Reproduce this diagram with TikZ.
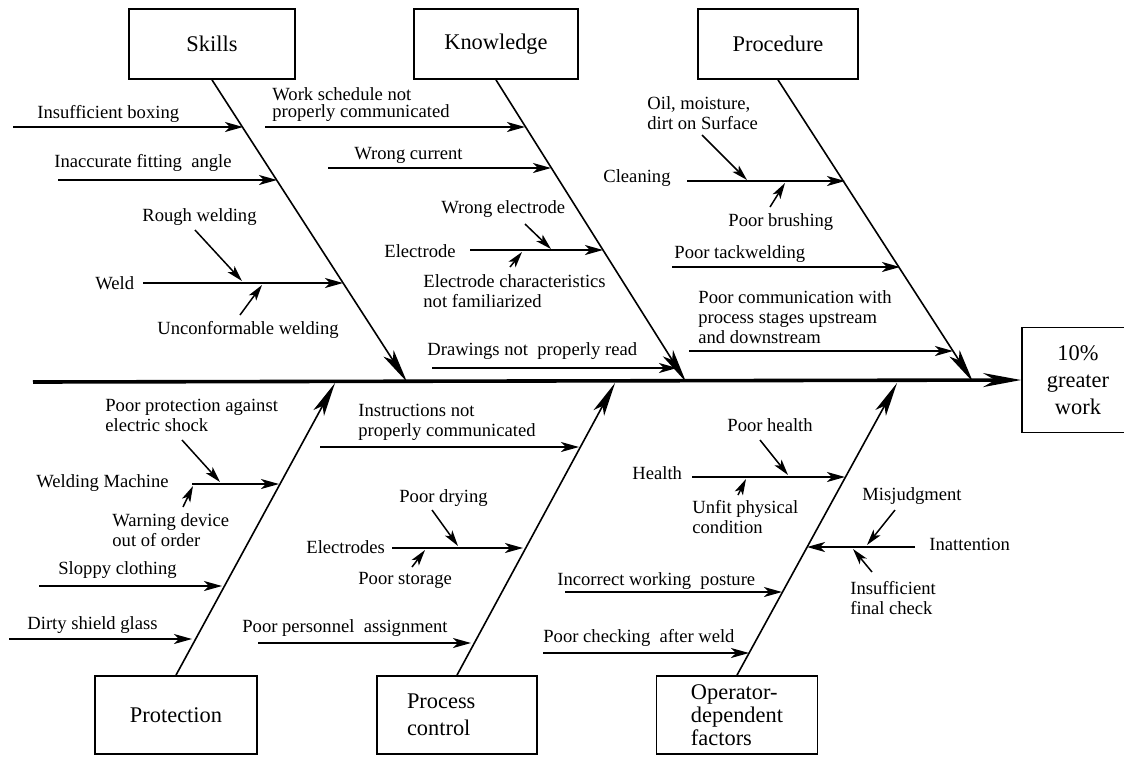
\documentclass[tikz,border=0pt]{standalone}
\usepackage{fontspec}
\setmainfont{Liberation Serif}
\usetikzlibrary{arrows.meta}
\tikzset{
    every node/.append style={align=left},
    cat/.style={rectangle,draw=black,line width=0.9pt,minimum height=35pt,inner sep=0pt,
        font=\fontsize{11.2}{13.5}\selectfont},
    lbl/.style={inner sep=0pt,anchor=west,font=\fontsize{9.3}{10}\selectfont},
    spine/.style={line width=1.8pt,-{Stealth[length=19pt,width=7pt,inset=6pt]}},
    bone/.style={line width=0.8pt,-{Stealth[length=17pt,width=6pt,inset=4pt]}},
    arr/.style={line width=0.75pt,-{Stealth[length=9pt,width=5pt,inset=2.5pt]}},
    sub/.style={line width=0.75pt,-{Stealth[length=8pt,width=4.5pt,inset=2pt]}}
}
\begin{document}
\begin{tikzpicture}[x=0.5pt,y=-0.5pt]
    \useasboundingbox (0,0) rectangle (1124,756);
    \clip (0,0) rectangle (1124,756);
    \node[cat,minimum width=83pt]   (skills)    at (212,44) {Skills};
    \node[cat,minimum width=82pt]   (knowledge) at (496,44) {Knowledge};
    \node[cat,minimum width=80pt]   (procedure) at (778,44) {Procedure};
    \node[cat,minimum width=81pt,minimum height=39pt] (protection) at (176,715) {Protection};
    \node[cat,minimum height=39pt,text width=50pt,inner xsep=15pt] (process) at (457,715) {Process\\control};
    \node[cat,minimum width=80.5pt,minimum height=39pt,font=\fontsize{11.2}{11.5}\selectfont] (operator) at (737,715) {Operator-\\dependent\\factors};
    \node[cat,minimum width=56pt,minimum height=52.5pt,align=center] (effect) at (1078,380) {10\%\\greater\\work};

    \coordinate (tail) at (33,382);
    \coordinate (skT) at (407,382);
    \coordinate (knT) at (686,382);
    \coordinate (prT) at (973,382);
    \coordinate (ptT) at (335,383);
    \coordinate (pcT) at (615,383);
    \coordinate (opT) at (897,383);

    \draw[spine] (tail) -- (effect.west);
    \draw[bone] (skills.south) -- (skT);
    \draw[bone] (knowledge.south) -- (knT);
    \draw[bone] (procedure.south) -- (prT);
    \draw[bone] (protection.north) -- (ptT);
    \draw[bone] (process.north) -- (pcT);
    \draw[bone] (operator.north) -- (opT);

    % Skills
    \node[lbl] (insuf)  at (37,114)  {Insufficient boxing};
    \node[lbl] (inacc)  at (54,163)  {Inaccurate fitting \ angle};
    \node[lbl] (weld)   at (95,283)  {Weld};
    \node[lbl] (rough)  at (142,217) {Rough welding};
    \node[lbl] (unconf) at (157,330) {Unconformable welding};
    \coordinate (insufA) at (13,127);  \coordinate (insufB) at (243,127);
    \coordinate (inaccA) at (58,180);  \coordinate (inaccB) at (277,180);
    \coordinate (weldA)  at (143,283); \coordinate (weldB)  at (343,283);
    \coordinate (roughA) at (195,230); \coordinate (roughB) at (242,281);
    \coordinate (uncA)   at (240,315); \coordinate (uncB)   at (262,285);
    \draw[arr] (insufA) -- (insufB);
    \draw[arr] (inaccA) -- (inaccB);
    \draw[arr] (weldA) -- (weldB);
    \draw[sub] (roughA) -- (roughB);
    \draw[sub] (uncA) -- (uncB);

    % Knowledge
    \node[lbl,font=\fontsize{9.3}{8.5}\selectfont] (sched) at (272,105) {Work schedule not\\properly communicated};
    \node[lbl] (wrongcur) at (354,155) {Wrong current};
    \node[lbl] (electrode) at (384,251) {Electrode};
    \node[lbl] (wrongel) at (441,209) {Wrong electrode};
    \node[lbl] (elchar) at (423,291) {Electrode characteristics\\not familiarized};
    \node[lbl] (drawings) at (427,351) {Drawings not \ properly read};
    \coordinate (schedA) at (265,127); \coordinate (schedB) at (525,127);
    \coordinate (curA)   at (328,168); \coordinate (curB)   at (551,168);
    \coordinate (elA)    at (470,250); \coordinate (elB)    at (603,250);
    \coordinate (welA)   at (525,224); \coordinate (welB)   at (551,249);
    \coordinate (charA)  at (510,267); \coordinate (charB)  at (522,252);
    \coordinate (drwA)   at (432,368); \coordinate (drwB)   at (677,368);
    \draw[arr] (schedA) -- (schedB);
    \draw[arr] (curA) -- (curB);
    \draw[arr] (elA) -- (elB);
    \draw[sub] (welA) -- (welB);
    \draw[sub] (charA) -- (charB);
    \draw[arr] (drwA) -- (drwB);

    % Procedure
    \node[lbl] (oil) at (647,113) {Oil, moisture,\\dirt on Surface};
    \node[lbl] (cleaning) at (603,178) {Cleaning};
    \node[lbl] (brushing) at (728,222) {Poor brushing};
    \node[lbl] (tack) at (674,254) {Poor tackwelding};
    \node[lbl] (comm) at (698,317) {Poor communication with\\process stages upstream\\and downstream};
    \coordinate (clnA)  at (687,181); \coordinate (clnB)  at (845,181);
    \coordinate (oilA)  at (702,135); \coordinate (oilB)  at (747,180);
    \coordinate (brsA)  at (770,207); \coordinate (brsB)  at (785,183);
    \coordinate (tackA) at (672,267); \coordinate (tackB) at (900,267);
    \coordinate (comA)  at (689,351); \coordinate (comB)  at (953,351);
    \draw[arr] (clnA) -- (clnB);
    \draw[sub] (oilA) -- (oilB);
    \draw[sub] (brsA) -- (brsB);
    \draw[arr] (tackA) -- (tackB);
    \draw[arr] (comA) -- (comB);

    % Protection
    \node[lbl] (shock) at (105,415) {Poor protection against\\electric shock};
    \node[lbl] (machine) at (36,483) {Welding Machine};
    \node[lbl] (warning) at (112,530) {Warning device\\out of order};
    \node[lbl] (sloppy) at (58,570) {Sloppy clothing};
    \node[lbl] (dirty) at (27,625) {Dirty shield glass};
    \coordinate (macA)  at (192,484); \coordinate (macB)  at (279,484);
    \coordinate (shkA)  at (182,440); \coordinate (shkB)  at (220,482);
    \coordinate (warnA) at (183,507); \coordinate (warnB) at (193,486);
    \coordinate (slpA)  at (39,586);  \coordinate (slpB)  at (222,586);
    \coordinate (drtA)  at (9,639);   \coordinate (drtB)  at (192,639);
    \draw[arr] (macA) -- (macB);
    \draw[sub] (shkA) -- (shkB);
    \draw[sub] (warnA) -- (warnB);
    \draw[arr] (slpA) -- (slpB);
    \draw[arr] (drtA) -- (drtB);

    % Process control
    \node[lbl] (instr) at (358,422) {Instructions not\\properly communicated};
    \node[lbl] (drying) at (399,498) {Poor drying};
    \node[lbl] (electrodes) at (306,547) {Electrodes};
    \node[lbl] (storage) at (358,580) {Poor storage};
    \node[lbl] (personnel) at (242,628) {Poor personnel \ assignment};
    \coordinate (insA) at (320,447); \coordinate (insB) at (579,447);
    \coordinate (elsA) at (392,548); \coordinate (elsB) at (523,548);
    \coordinate (dryA) at (432,510); \coordinate (dryB) at (458,546);
    \coordinate (stoA) at (412,567); \coordinate (stoB) at (425,550);
    \coordinate (perA) at (258,643); \coordinate (perB) at (471,643);
    \draw[arr] (insA) -- (insB);
    \draw[arr] (elsA) -- (elsB);
    \draw[sub] (dryA) -- (dryB);
    \draw[sub] (stoA) -- (stoB);
    \draw[arr] (perA) -- (perB);

    % Operator-dependent factors
    \node[lbl] (phealth) at (727,425) {Poor health};
    \node[lbl] (health) at (632,473) {Health};
    \node[lbl] (unfit) at (692,517) {Unfit physical\\condition};
    \node[lbl] (misjudg) at (862,496) {Misjudgment};
    \node[lbl] (inatt) at (929,544) {Inattention};
    \node[lbl] (final) at (850,598) {Insufficient\\final check};
    \node[lbl] (posture) at (557,581) {Incorrect working \ posture};
    \node[lbl] (checking) at (543,638) {Poor checking \ after weld};
    \coordinate (hlA)  at (692,477); \coordinate (hlB)  at (845,477);
    \coordinate (phA)  at (760,440); \coordinate (phB)  at (788,475);
    \coordinate (unfA) at (738,495); \coordinate (unfB) at (746,479);
    \coordinate (inaA) at (915,547); \coordinate (inaB) at (807,547);
    \coordinate (misA) at (895,510); \coordinate (misB) at (867,545);
    \coordinate (finA) at (872,572); \coordinate (finB) at (853,549);
    \coordinate (posA) at (565,592); \coordinate (posB) at (782,592);
    \coordinate (chkA) at (543,653); \coordinate (chkB) at (749,653);
    \draw[arr] (hlA) -- (hlB);
    \draw[sub] (phA) -- (phB);
    \draw[sub] (unfA) -- (unfB);
    \draw[arr] (inaA) -- (inaB);
    \draw[sub] (misA) -- (misB);
    \draw[sub] (finA) -- (finB);
    \draw[arr] (posA) -- (posB);
    \draw[arr] (chkA) -- (chkB);
\end{tikzpicture}
\end{document}
